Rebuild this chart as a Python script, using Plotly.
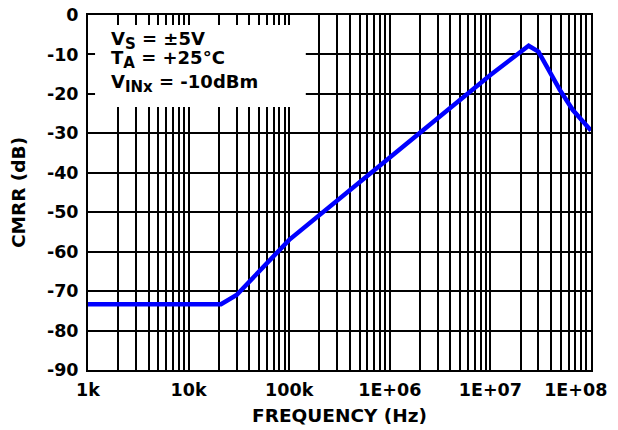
import plotly.graph_objects as go

# Data
freq_hz = [1e3, 2.1e4, 3.0e4, 1.0e5, 1.0e6, 1.0e7, 2.4e7, 3.0e7, 4.9e7, 6.6e7, 1.0e8]
cmrr_db = [-73.3, -73.3, -71.0, -57.0, -36.1, -15.2, -7.8, -9.3, -19.0, -24.1, -29.3]

x_tick_vals = [1e3, 1e4, 1e5, 1e6, 1e7, 1e8]
x_tick_text = ["1k", "10k", "100k", "1E+06", "1E+07", "1E+08" + "\u00a0" * 5]
y_tick_vals = [0, -10, -20, -30, -40, -50, -60, -70, -80, -90]
y_tick_text = ["0", "-10", "-20", "-30", "-40", "-50", "-60", "-70", "-80", "-90"]

SUB = '<sub><span style="font-size:15px">{}</span></sub>'
conditions = [
    "V" + SUB.format("S") + " = ±5V",
    "T" + SUB.format("A") + " = +25°C",
    "V" + SUB.format("INx") + " = -10dBm",
]
condition_y = [0.969, 0.916, 0.848]

FONT = "DejaVu Sans"
TICKFONT = dict(family=FONT, size=17.5, weight="bold", color="black")
TITLEFONT = dict(family=FONT, size=18.5, weight="bold", color="black")

fig = go.Figure()
fig.add_trace(go.Scatter(
    x=freq_hz, y=cmrr_db, mode="lines",
    line=dict(color="#0000ff", width=4.5),
    showlegend=False, hoverinfo="skip",
))

# page body has an 8px margin, so the figure is 8px smaller and margins are shifted
fig.update_layout(
    width=610, height=422,
    margin=dict(l=80, r=27, t=7, b=60, autoexpand=False),
    paper_bgcolor="white", plot_bgcolor="white",
    font=dict(family=FONT, color="black", size=16),
    xaxis=dict(
        type="log", range=[3, 8],
        tickmode="array", tickvals=x_tick_vals, ticktext=x_tick_text,
        tickfont=TICKFONT, ticklabeloverflow="allow",
        showgrid=True, gridcolor="black", gridwidth=2,
        minor=dict(dtick="D1", showgrid=True, gridcolor="black", gridwidth=2, ticks=""),
        showline=True, linecolor="black", linewidth=2, mirror=True,
        ticks="outside", ticklen=3, tickcolor="rgba(0,0,0,0)", zeroline=False,
        title=dict(text="FREQUENCY (Hz)", standoff=10, font=TITLEFONT),
        automargin=False,
    ),
    yaxis=dict(
        range=[-90, 0],
        tickmode="array", tickvals=y_tick_vals, ticktext=y_tick_text,
        tickfont=TICKFONT, ticklabeloverflow="allow",
        showgrid=True, gridcolor="black", gridwidth=2,
        showline=True, linecolor="black", linewidth=2, mirror=True,
        ticks="outside", ticklen=4, tickcolor="rgba(0,0,0,0)", zeroline=False,
        title=dict(text="CMRR (dB)", standoff=18, font=TITLEFONT),
        automargin=False,
    ),
)

# white box behind the conditions text (hides grid lines)
fig.add_shape(
    type="rect", xref="x domain", yref="y domain",
    x0=0.014, x1=0.433, y0=0.741, y1=0.972,
    fillcolor="white", line=dict(width=0), layer="above",
)

for txt, yy in zip(conditions, condition_y):
    fig.add_annotation(
        xref="x domain", yref="y domain", x=0.042, y=yy,
        xanchor="left", yanchor="top", align="left", showarrow=False,
        text=txt, font=dict(family=FONT, size=18, weight="bold", color="black"),
    )

fig.write_html("out.html")
